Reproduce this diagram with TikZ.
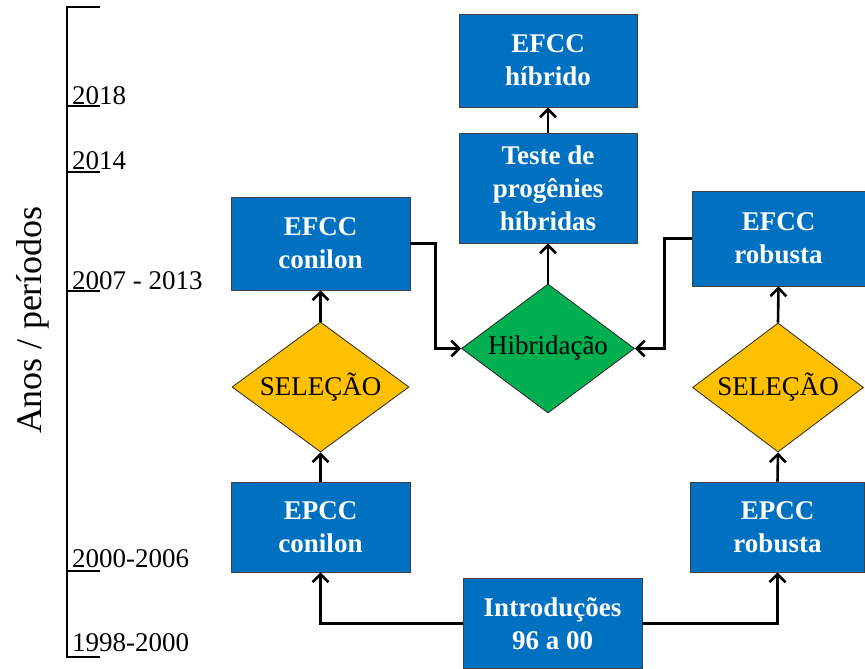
\documentclass[tikz,border=0pt]{standalone}
\usepackage{fontspec}
\setmainfont{Liberation Serif}
\usetikzlibrary{shapes.geometric,arrows.meta}
\definecolor{boxblue}{HTML}{0070C0}
\definecolor{selgold}{HTML}{FFC000}
\definecolor{hibgreen}{HTML}{00B050}
\begin{document}
\begin{tikzpicture}[x=1pt,y=-1pt,
 box/.style={draw=black!75,line width=0.8pt,fill=boxblue,text=white,font=\fontsize{27}{33}\selectfont\bfseries,align=center,inner sep=0pt},
 dia/.style={diamond,draw=black!85,line width=0.8pt,font=\fontsize{27}{33}\selectfont,inner sep=0pt,shape aspect=1.36},
 conn/.style={line width=2.6pt,-{Straight Barb[length=8pt,width=16pt,line width=2.6pt]}},
 axisline/.style={line width=2.6pt},
 yr/.style={anchor=base west,font=\fontsize{27}{27}\selectfont,inner sep=0pt}]
\useasboundingbox (0,0) rectangle (865,669);
% axis
\draw[axisline] (100,7) -- (67,7) -- (67,657) -- (100,657);
\draw[axisline] (67,106) -- (100,106);
\draw[axisline] (67,172) -- (100,172);
\draw[axisline] (67,291) -- (100,291);
\draw[axisline] (67,571) -- (100,571);
\node[yr] (y1) at (72,104) {2018};
\node[yr] (y2) at (72,169) {2014};
\node[yr] (y3) at (72,289) {2007 - 2013};
\node[yr] (y4) at (72,567) {2000-2006};
\node[yr] (y5) at (72,651) {1998-2000};
\node[rotate=90,font=\fontsize{36}{36}\selectfont] (lab) at (33,320) {Anos / períodos};
% boxes
\node[box,minimum width=178pt,minimum height=93pt] (efcch) at (548,60.5) {EFCC\\híbrido};
\node[box,minimum width=178pt,minimum height=110pt] (teste) at (548,188) {Teste de\\progênies\\híbridas};
\node[box,minimum width=179pt,minimum height=93pt] (efccc) at (320.5,243.5) {EFCC\\conilon};
\node[box,minimum width=173pt,minimum height=95pt] (efccr) at (778.5,238.5) {EFCC\\robusta};
\node[box,minimum width=179pt,minimum height=90pt] (epccc) at (320.5,527) {EPCC\\conilon};
\node[box,minimum width=174pt,minimum height=90pt] (epccr) at (777.5,527) {EPCC\\robusta};
\node[box,minimum width=179pt,minimum height=90pt] (intro) at (552.5,623.5) {Introduções\\96 a 00};
% diamonds
\node[dia,fill=selgold,minimum width=177pt,minimum height=130pt] (selc) at (320.5,387) {SELEÇÃO};
\node[dia,fill=hibgreen,minimum width=173pt,minimum height=129pt] (hib) at (548,348.5) {Hibridação};
\node[dia,fill=selgold,minimum width=171pt,minimum height=129pt] (selr) at (778,387.5) {SELEÇÃO};
% connectors
\draw[conn] (intro.west) -| (epccc.south);
\draw[conn] (intro.east) -| (epccr.south);
\draw[conn] (epccc.north) -- (selc.south);
\draw[conn] (selc.north) -- (efccc.south);
\draw[conn] (efccc.east) -- ++(25,0) |- (hib.west);
\draw[conn] (efccr.west) -- ++(-27,0) |- (hib.east);
\draw[conn] (hib.north) -- (teste.south);
\draw[conn] (teste.north) -- (efcch.south);
\draw[conn] (selr.north) -- (efccr.south);
\draw[conn] (epccr.north) -- (selr.south);
\end{tikzpicture}
\end{document}
